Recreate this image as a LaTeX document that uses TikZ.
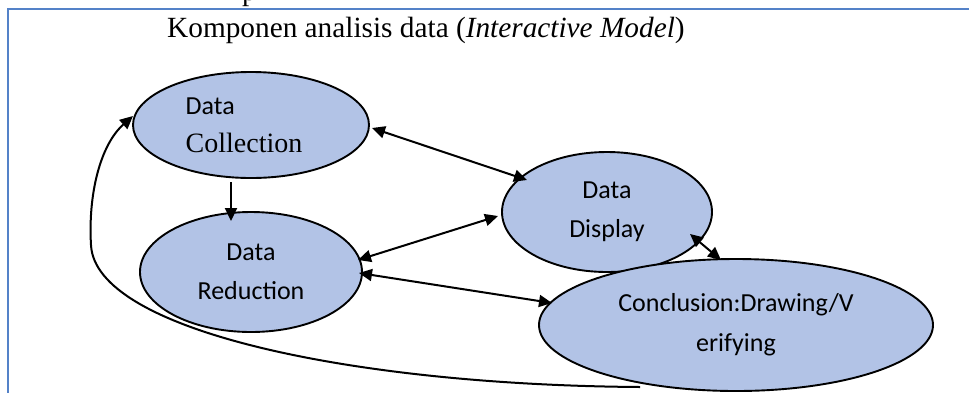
\documentclass[tikz,border=0pt]{standalone}
\usepackage{fontspec}
\setmainfont{Liberation Serif}
\newfontfamily\calfont{Carlito}
\usetikzlibrary{arrows.meta,calc,shapes.geometric}
\definecolor{framec}{RGB}{84,130,200}
\definecolor{ellfill}{RGB}{178,195,230}
\tikzset{
  ell/.style={ellipse, draw=black, line width=1.9pt, fill=ellfill, inner sep=0pt,
    align=center, font=\calfont\fontsize{26}{39}\selectfont},
  conn/.style={line width=2pt, black, >={Triangle[length=13pt,width=12pt]}}
}
\begin{document}
\begin{tikzpicture}[x=1pt,y=-1pt]
\useasboundingbox (0,0) rectangle (969,392);
\fill[white] (0,0) rectangle (969,392);
% frame
\draw[framec, line width=2.2pt] (8,400) -- (8,9) -- (975,9);
% cut text from previous line
\node[anchor=base west, inner sep=0pt, font=\fontsize{29}{30}\selectfont] (ptxt) at (242,0) {p};
% title
\node[anchor=base west, inner sep=0pt, font=\fontsize{29.3}{32}\selectfont] (title) at (167,37)
  {Komponen analisis data (\textit{Interactive Model})};
% ellipses
\node[ell, minimum width=236pt, minimum height=106pt, align=left] (dc) at (251,125)
  {Data\\[-1pt]{\rmfamily\fontsize{28}{39}\selectfont Collection}\hspace*{14pt}};
\node[ell, minimum width=222pt, minimum height=120pt] (dr) at (251,272) {Data\\Reduction};
\node[ell, minimum width=210pt, minimum height=120pt] (dd) at (607,212) {Data\\Display};
\node[ell, minimum width=394pt, minimum height=132pt, font=\calfont\fontsize{26}{40}\selectfont] (cc) at (736,325)
  {Conclusion:Drawing/V\\erifying};
% connectors
\draw[conn, <->] ($(dc)+(121,3)$) -- ($(dd)+(-80,-32)$);
\draw[conn, ->] ($(dc)+(-20,57)$) -- ($(dr)+(-20,-51)$);
\draw[conn, <->] ($(dr)+(107,-12)$) -- ($(dd)+(-109,4)$);
\draw[conn, <->] ($(dr)+(108,1)$) -- ($(cc)+(-184,-22)$);
\draw[conn, <->] ($(dd)+(83,22)$) -- ($(cc)+(-15,-65)$);
\draw[conn, ->] ($(cc)+(-96,62)$) .. controls (350,385) and (95,330) .. (91,245)
  .. controls (88,195) and (100,145) .. ($(dc)+(-118,-9)$);
\end{tikzpicture}
\end{document}
